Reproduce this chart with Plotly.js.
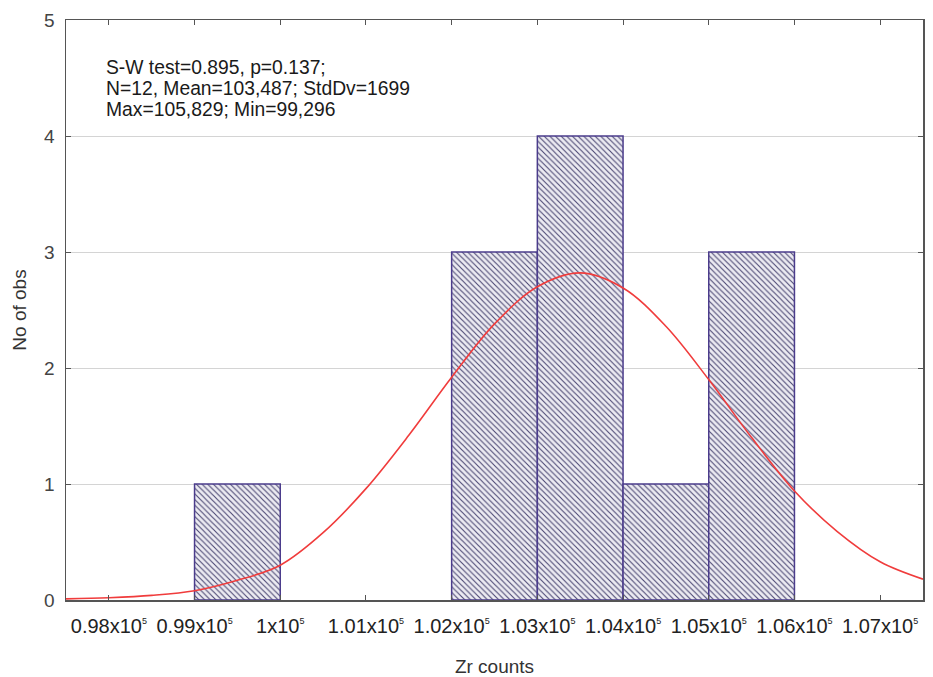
<!DOCTYPE html>
<html>
<head>
<meta charset="utf-8">
<script src="https://cdn.plot.ly/plotly-3.0.1.min.js"></script>
<style>
  html, body { margin: 0; padding: 0; background: #fff; }
  #chart { width: 933px; height: 677px; }
</style>
</head>
<body>
<div id="chart"></div>
<script>
// Histogram bins (centre of each 1000-wide bin) and observed counts
const binCenters = [99500, 102500, 103500, 104500, 105500];
const counts = [1, 3, 4, 1, 3];

// Fitted normal curve
const curveX = [97500, 98000, 98500, 99000, 99500, 100000, 100500, 101000, 101500, 102000,
                102500, 103000, 103500, 104000, 104500, 105000, 105500, 106000, 106500, 107000, 107500];
const curveY = [0.01, 0.02, 0.04, 0.08, 0.17, 0.3, 0.58, 0.96, 1.42, 1.92,
                2.38, 2.7, 2.82, 2.69, 2.36, 1.9, 1.4, 0.94, 0.59, 0.33, 0.18];

// Tick labels
const xTickVals = [98000, 99000, 100000, 101000, 102000, 103000, 104000, 105000, 106000, 107000];
const xTickBase = ["0.98x10", "0.99x10", "1x10", "1.01x10", "1.02x10", "1.03x10", "1.04x10", "1.05x10", "1.06x10", "1.07x10"];
const xTickExp = "5";
const yTickVals = [0, 1, 2, 3, 4, 5];

const statsLines = ["S-W test=0.895, p=0.137;", "N=12, Mean=103,487; StdDv=1699", "Max=105,829; Min=99,296"];

const FONT = "Liberation Sans, Arial, sans-serif";

const xTickText = xTickBase.map(b => b + "<sup><span style='font-size:9px'>" + xTickExp + "</span></sup>");

const traces = [
  {
    type: "bar",
    x: binCenters,
    y: counts,
    width: 1000,
    marker: {
      color: "#ecebf2",
      line: { color: "#4b3c8c", width: 1.5 },
      pattern: { shape: "\\", fgcolor: "#4c4874", bgcolor: "#ecebf2", size: 4, solidity: 0.28 }
    },
    hoverinfo: "skip",
    showlegend: false
  },
  {
    type: "scatter",
    mode: "lines",
    x: curveX,
    y: curveY,
    line: { color: "#f03c3c", width: 1.6, shape: "spline" },
    hoverinfo: "skip",
    showlegend: false
  }
];

const annotations = statsLines.map((t, i) => ({
  xref: "paper", yref: "paper",
  x: 0.044, y: 0.918 - i * 0.0365,
  xanchor: "left", yanchor: "middle",
  align: "left",
  showarrow: false,
  text: t,
  font: { family: FONT, size: 19.3, color: "#1a1a1a" }
}));

const layout = {
  width: 933,
  height: 677,
  margin: { l: 66, r: 10, t: 20, b: 77 },
  paper_bgcolor: "#ffffff",
  plot_bgcolor: "#ffffff",
  font: { family: FONT, color: "#333333", size: 19 },
  bargap: 0,
  xaxis: {
    range: [97500, 107500],
    tickmode: "array",
    tickvals: xTickVals,
    ticktext: xTickText,
    ticks: "inside",
    ticklen: 5,
    tickcolor: "#555",
    showline: true,
    linecolor: "#555",
    linewidth: 1.5,
    mirror: "ticks",
    showgrid: false,
    zeroline: false,
    ticklabelstandoff: 7,
    tickfont: { family: FONT, size: 20, color: "#222" },
    title: { text: "Zr counts", font: { family: FONT, size: 19, color: "#333" }, standoff: 28 }
  },
  yaxis: {
    range: [0, 5],
    tickmode: "array",
    tickvals: yTickVals,
    ticks: "inside",
    ticklen: 5,
    tickcolor: "#555",
    showline: true,
    linecolor: "#555",
    linewidth: 1.5,
    mirror: "ticks",
    showgrid: true,
    gridcolor: "#d4d4d4",
    gridwidth: 1,
    zeroline: false,
    ticklabelstandoff: 6,
    tickfont: { family: FONT, size: 19, color: "#444" },
    title: { text: "No of obs", font: { family: FONT, size: 19, color: "#333" }, standoff: 12 }
  },
  annotations: annotations
};

Plotly.newPlot("chart", traces, layout, { displayModeBar: false, staticPlot: true });
</script>
</body>
</html>
